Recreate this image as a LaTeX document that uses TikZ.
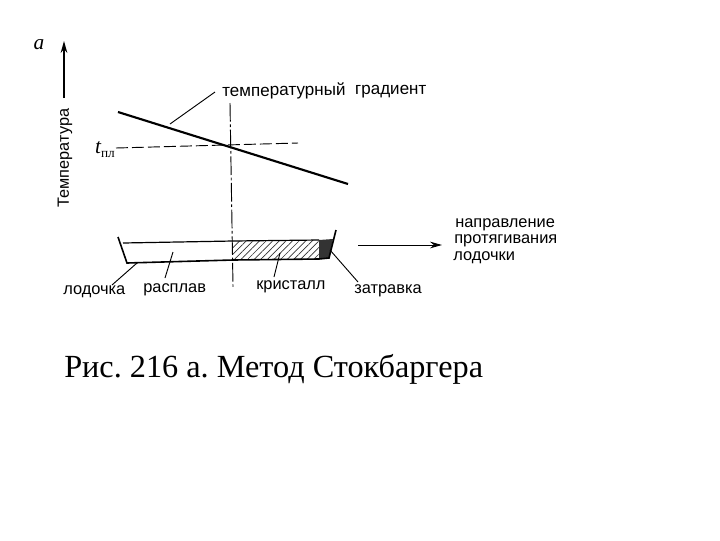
\documentclass[tikz,border=0pt]{standalone}
\usepackage{fontspec}
\setmainfont{Liberation Sans}
\newfontfamily\capfont{Liberation Serif}
\usetikzlibrary{patterns.meta,arrows.meta}

\begin{document}
\begin{tikzpicture}
[x=.75pt,y=-.75pt,every node/.style={inner sep=0pt},
 lbl/.style={anchor=west,font=\fontsize{12.3}{13}\selectfont},
 leader/.style={line width=.7pt},
 axis/.style={line width=1.2pt,-{Stealth[length=9pt,width=5pt]}},
 wall/.style={line width=1.2pt}]
  \useasboundingbox (0,0) rectangle (720,540);

  % temperature part
  \node (alpha) at (39,45) {\capfont\itshape\fontsize{16}{16}\selectfont а};
  \coordinate (axisb) at (64,98);
  \coordinate (axist) at (64,41);
  \draw[axis] (axisb) -- (axist);
  \node[rotate=90] (temp) at (65,158) {\fontsize{12.2}{13}\selectfont Температура};
  \coordinate (gradl) at (118,112);
  \coordinate (gradr) at (348,184);
  \draw[line width=1.6pt] (gradl) -- (gradr);
  \node[lbl,rotate=.7,font=\fontsize{12.8}{13}\selectfont] (gradtxt) at (222,92) {температурный\ \ градиент};
  \coordinate (gradp) at (170,124);
  \coordinate (gradq) at (215,92);
  \draw[leader] (gradp) -- (gradq);
  \node (tmelt) at (105,150) {\capfont\itshape\fontsize{16}{16}\selectfont t\raisebox{-.4ex}{\upshape\fontsize{10}{10}\selectfont пл}};
  \coordinate (meltl) at (116,148);
  \coordinate (meltr) at (298,143);
  \draw[leader,dash pattern=on 9pt off 3pt] (meltl) -- (meltr);
  \coordinate (frontt) at (230,103);
  \coordinate (frontb) at (233,287);
  \draw[leader,dash pattern=on 14pt off 2pt on 2pt off 2pt] (frontt) -- (frontb);

  % boat
  \coordinate (tl) at (123,243);
  \coordinate (bl) at (127,263);
  \coordinate (tm) at (233,241);
  \coordinate (bm) at (233,260);
  \coordinate (tc) at (319,240);
  \coordinate (bc) at (319,259);
  \coordinate (ts) at (333,239);
  \coordinate (bs) at (329,258);
  \fill[pattern={Lines[angle=45,distance=3.5pt,line width=.5pt]},pattern color=black!80] (tm) -- (tc) -- (bc) -- (bm) -- cycle;
  \fill[black!80] (tc) -- (ts) -- (bs) -- (bc) -- cycle;
  \draw[wall] (118,237) -- (bl) -- (bm) -- (bc) -- (bs) -- (336,230);
  \draw[line width=.9pt] (tl) -- (tm) -- (tc);

  % labels below
  \node[lbl] (boat) at (63,292) {лодочка};
  \node[lbl] (melt) at (143,290) {расплав};
  \node[lbl] (cryst) at (256,287) {кристалл};
  \node[lbl] (seed) at (354,291) {затравка};
  \coordinate (boatp) at (137,263);
  \coordinate (boatq) at (112,285);
  \coordinate (meltp) at (173,252);
  \coordinate (meltq) at (165,278);
  \coordinate (crystp) at (280,253);
  \coordinate (crystq) at (274,277);
  \coordinate (seedp) at (330,250);
  \coordinate (seedq) at (358,282);
  \foreach \from/\to in {boatp/boatq,meltp/meltq,crystp/crystq,seedp/seedq}
    \draw[leader] (\from) -- (\to);

  % pulling direction
  \coordinate (pulla) at (358,245);
  \coordinate (pullb) at (442,245);
  \draw[leader,-{Stealth[length=9pt,width=5pt]}] (pulla) -- (pullb);
  \node[lbl] (dir1) at (455,225) {направление};
  \node[lbl] (dir2) at (454,241) {протягивания};
  \node[lbl] (dir3) at (453,258) {лодочки};

  \node[anchor=west] (caption) at (64,369.5) {\capfont\frenchspacing\fontsize{24.2}{26}\selectfont Рис. 216 а. Метод Стокбаргера};
\end{tikzpicture}
\end{document}
